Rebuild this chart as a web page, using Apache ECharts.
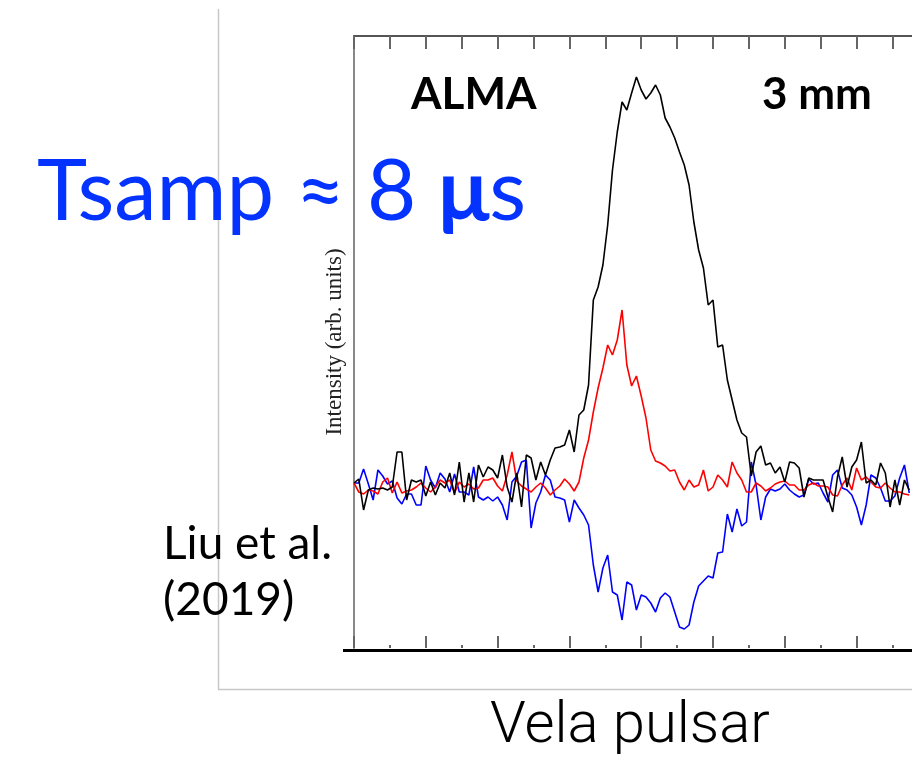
<!DOCTYPE html>
<html><head><meta charset="utf-8">
<script src="https://cdn.jsdelivr.net/npm/echarts@6/dist/echarts.min.js"></script>
<style>html,body{margin:0;padding:0;background:#fff}#c{width:912px;height:764px}</style>
</head><body><div id="c"></div>
<script>
// Pulse profile samples (arb. units, baseline = 0), one value per phase bin
const totalIntensity = [2,6,-25,-5,-3,-4,-3,-5,-2,33,33,-15,5,3,5,-11,3,-10,2,-3,12,-10,23,-17,12,-17,20,8,18,15,7,30,-2,-17,12,-22,30,27,5,23,10,25,37,38,40,55,33,70,75,100,185,198,220,260,315,353,383,375,392,408,395,386,392,400,390,367,358,347,333,320,300,263,235,217,180,185,138,140,105,85,65,52,48,9,33,39,20,22,12,18,3,23,22,17,-12,7,5,5,5,-12,-27,8,28,-2,18,25,43,2,5,0,22,12,-22,5,-20,5,-5];
const linearPol = [2,-7,-9,-5,-6,-9,3,7,-8,3,-8,-6,-5,-2,2,-3,-7,-2,5,2,5,-8,3,-2,1,-4,-3,5,5,7,-1,-6,10,33,4,-1,-4,-7,-2,2,-3,-10,-5,-1,6,1,-6,3,27,45,73,97,117,140,130,145,175,120,99,109,89,67,35,24,22,19,14,15,3,-5,5,-2,0,15,-6,-2,10,5,-2,23,12,5,-7,-7,2,-1,-6,-3,1,3,4,0,0,-5,-5,0,2,-1,-1,-2,-10,-11,0,7,-5,17,5,8,3,-2,-3,2,-3,-7,-7,-9,-10];
const circularPol = [2,2,16,1,-15,15,9,1,4,-13,-19,-9,-9,-20,-20,19,5,-3,12,6,-7,11,-7,-7,-10,18,-12,-15,-12,-16,-12,-20,-35,3,9,23,25,-43,-18,-7,10,5,-12,-13,-15,-37,-15,-23,-30,-40,-80,-107,-83,-70,-107,-110,-135,-97,-100,-125,-110,-112,-118,-127,-113,-108,-112,-127,-142,-144,-140,-117,-101,-96,-91,-93,-68,-67,-29,-47,-24,-41,-37,23,0,-35,-12,-4,-6,-4,1,-5,-9,-12,-10,6,1,2,-8,-17,10,15,-3,-5,-10,-22,-40,-20,10,7,-3,-16,-16,-11,7,20,-8];
const seriesNames = ['Circular polarization', 'Linear polarization', 'Total intensity'];
const seriesColors = ['#0000ff', '#ff0000', '#000000'];
const xRange = [0, 135];      // phase bins
const yRange = [-163, 449];   // arb. units
const majorStep = 15, topStep = 7.5;

const toPairs = arr => arr.map((v, i) => [i, v]);
const chart = echarts.init(document.getElementById('c'), null, {renderer: 'canvas'});
const gridH = 612, gridW = 646.2;
chart.setOption({
  animation: false,
  backgroundColor: '#fff',
  grid: {left: 354, top: 36, width: gridW, height: gridH, containLabel: false, outerBoundsMode: 'none'},
  xAxis: [
    {type: 'value', position: 'bottom', min: xRange[0], max: xRange[1], interval: majorStep,
     axisLine: {show: false, onZero: false},
     axisTick: {show: true, inside: true, length: 12, lineStyle: {color: '#666', width: 2}},
     minorTick: {show: true, splitNumber: 2, length: 3, lineStyle: {color: '#666', width: 2}},
     axisLabel: {show: false}, splitLine: {show: false}},
    {type: 'value', position: 'top', min: xRange[0], max: xRange[1], interval: topStep,
     axisLine: {show: true, onZero: false, lineStyle: {color: '#555', width: 2}},
     axisTick: {show: true, inside: true, length: 13, lineStyle: {color: '#666', width: 2}},
     axisLabel: {show: false}, splitLine: {show: false}}
  ],
  yAxis: {type: 'value', min: yRange[0], max: yRange[1],
    axisLine: {show: true, onZero: false, lineStyle: {color: '#888', width: 2}},
    axisTick: {show: false}, axisLabel: {show: false}, splitLine: {show: false},
    name: 'Intensity (arb. units)', nameLocation: 'middle', nameRotate: 90, nameGap: 8,
    nameTextStyle: {fontFamily: 'Liberation Serif', fontSize: 23, color: '#222'}},
  series: [circularPol, linearPol, totalIntensity].map((arr, k) => ({
    type: 'line', name: seriesNames[k], xAxisIndex: 0, data: toPairs(arr), showSymbol: false,
    lineStyle: {color: seriesColors[k], width: 1.6}, z: 2 + k, clip: true
  })),
  graphic: [
    {type: 'line', z: 1, shape: {x1: 218.5, y1: 9, x2: 218.5, y2: 689}, style: {stroke: '#c8c8c8', lineWidth: 1.5}},
    {type: 'line', z: 1, shape: {x1: 218, y1: 689.5, x2: 912, y2: 689.5}, style: {stroke: '#c8c8c8', lineWidth: 1.5}},
    {type: 'line', z: 10, shape: {x1: 343, y1: 650.5, x2: 912, y2: 650.5}, style: {stroke: '#000', lineWidth: 3}},
    {type: 'text', z: 20, x: 37, y: 193, style: {
      text: '{a|Tsamp ≈ 8 }{b|μ}{a|s}', verticalAlign: 'middle', fill: '#0433ff',
      rich: {a: {fontFamily: 'Lato', fontSize: 85, fill: '#0433ff'},
             b: {fontFamily: 'Lato', fontSize: 85, fontWeight: 'bold', fill: '#0433ff'}}}},
    {type: 'text', z: 20, x: 411, y: 95, style: {text: 'ALMA', fontFamily: 'Lato', fontWeight: 'bold', fontSize: 44, fill: '#000', verticalAlign: 'middle'}},
    {type: 'text', z: 20, x: 762, y: 95, style: {text: '3 mm', fontFamily: 'Lato', fontWeight: 'bold', fontSize: 44, fill: '#000', verticalAlign: 'middle'}},
    {type: 'text', z: 20, x: 163, y: 544, style: {text: 'Liu et al.', fontFamily: 'Lato', fontSize: 46, fill: '#000', verticalAlign: 'middle'}},
    {type: 'text', z: 20, x: 163, y: 600, style: {text: '(2019)', fontFamily: 'Lato', fontSize: 46, fill: '#000', verticalAlign: 'middle'}},
    {type: 'text', z: 20, x: 490, y: 727, style: {text: 'Vela pulsar', fontFamily: 'Roboto', fontWeight: 300, fontSize: 58, fill: '#000', verticalAlign: 'middle'}}
  ]
});
</script></body></html>
